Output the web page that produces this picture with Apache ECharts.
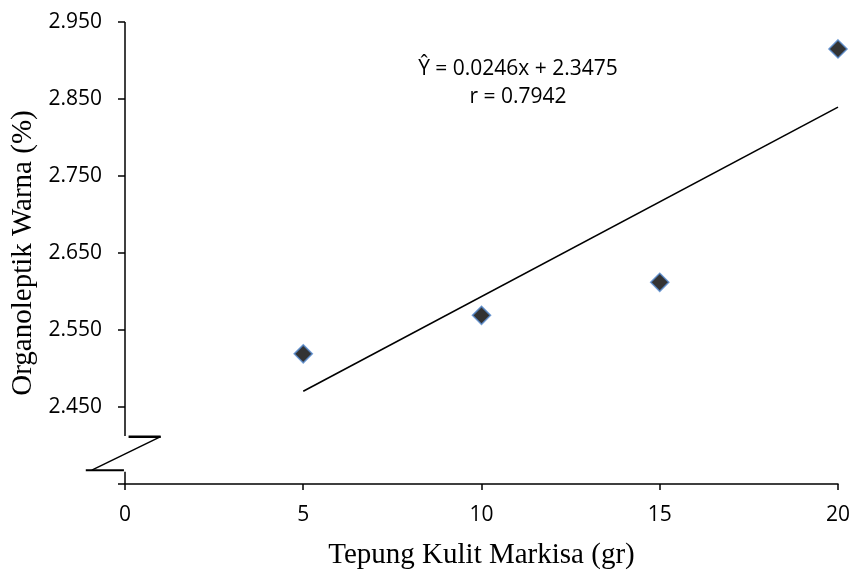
<!DOCTYPE html>
<html>
<head>
<meta charset="utf-8">
<script src="https://cdn.jsdelivr.net/npm/echarts@6/dist/echarts.min.js"></script>
<style>html,body{margin:0;padding:0;background:#fff}#c{width:853px;height:575px}</style>
</head>
<body>
<div id="c"></div>
<script>
// ---- data ----
const xValues = [5, 10, 15, 20];
const yValues = [2.519, 2.569, 2.612, 2.915];
const slope = 0.0246;
const intercept = 2.3475;
const equationText = 'Ŷ = 0.0246x + 2.3475';
const rText = 'r = 0.7942';
const xTitle = 'Tepung Kulit Markisa (gr)';
const yTitle = 'Organoleptik Warna (%)';
const yMin = 2.35, yMax = 2.95, yStep = 0.1;
const xMin = 0, xMax = 20, xStep = 5;
// axis-break decoration (data units)
const breakTop = 2.4115, breakBottom = 2.368;
const yAxisUpper = [[0, yMax], [0, 2.4124]];
const yAxisLower = [[0, 2.3658], [0, yMin]];
const breakUpper = [[0.1, breakTop], [1.0, breakTop]];
const breakDiag = [[1.0, breakTop], [-0.93, breakBottom]];
const breakLower = [[-1.1, breakBottom], [-0.03, breakBottom]];

const points = xValues.map((x, i) => [x, yValues[i]]);
const trend = [xValues[0], xValues[xValues.length - 1]].map(x => [x, slope * x + intercept]);

const chart = echarts.init(document.getElementById('c'), null, {renderer: 'canvas'});
chart.setOption({
  animation: false,
  backgroundColor: '#fff',
  title: {
    text: equationText + '\n' + rText,
    left: 513, top: 50, textAlign: 'center',
    textStyle: {fontFamily: 'Open Sans', fontSize: 21, fontWeight: 'normal', color: '#000', lineHeight: 28}
  },
  grid: {left: 125, right: 15, top: 22, bottom: 88},
  xAxis: {
    type: 'value', min: xMin, max: xMax, interval: xStep,
    name: xTitle, nameLocation: 'middle', nameGap: 57,
    nameTextStyle: {fontFamily: 'Liberation Serif', fontSize: 29, color: '#000'},
    axisLine: {show: true, onZero: false, lineStyle: {color: '#000', width: 1.5}},
    axisTick: {show: true, length: 6, lineStyle: {color: '#000', width: 1.5}},
    axisLabel: {fontFamily: 'Open Sans', fontSize: 21, color: '#000', margin: 21},
    splitLine: {show: false}
  },
  yAxis: {
    type: 'value', min: yMin, max: yMax, interval: yStep,
    name: yTitle, nameLocation: 'middle', nameGap: 85,
    nameTextStyle: {fontFamily: 'Liberation Serif', fontSize: 29, color: '#000'},
    axisLine: {show: false},
    axisTick: {show: true, length: 7, lineStyle: {color: '#000', width: 1.5}},
    axisLabel: {
      fontFamily: 'Open Sans', fontSize: 21, color: '#000', margin: 23,
      formatter: v => (v < 2.4 ? '' : v.toFixed(3))
    },
    splitLine: {show: false}
  },
  series: [
    {
      type: 'line', data: trend, symbol: 'none', silent: true,
      lineStyle: {color: '#000', width: 1.6}, z: 3
    },
    {
      type: 'scatter', data: points, symbol: 'diamond', symbolSize: 18,
      itemStyle: {color: '#000', borderColor: '#5287cc', borderWidth: 1.6}, z: 6
    }
  ]
});

// decoration lines (axis line with break) placed through the chart's own coordinate system
function seg(pts, w) {
  return {
    type: 'polyline', silent: true, z: 10,
    shape: {points: pts.map(p => chart.convertToPixel({gridIndex: 0}, p))},
    style: {stroke: '#000', lineWidth: w, fill: null}
  };
}
chart.setOption({
  graphic: [
    seg(yAxisUpper, 1.5),
    seg(yAxisLower, 1.5),
    seg(breakUpper, 2.5),
    seg(breakDiag, 1.5),
    seg(breakLower, 2)
  ]
});
</script>
</body>
</html>
